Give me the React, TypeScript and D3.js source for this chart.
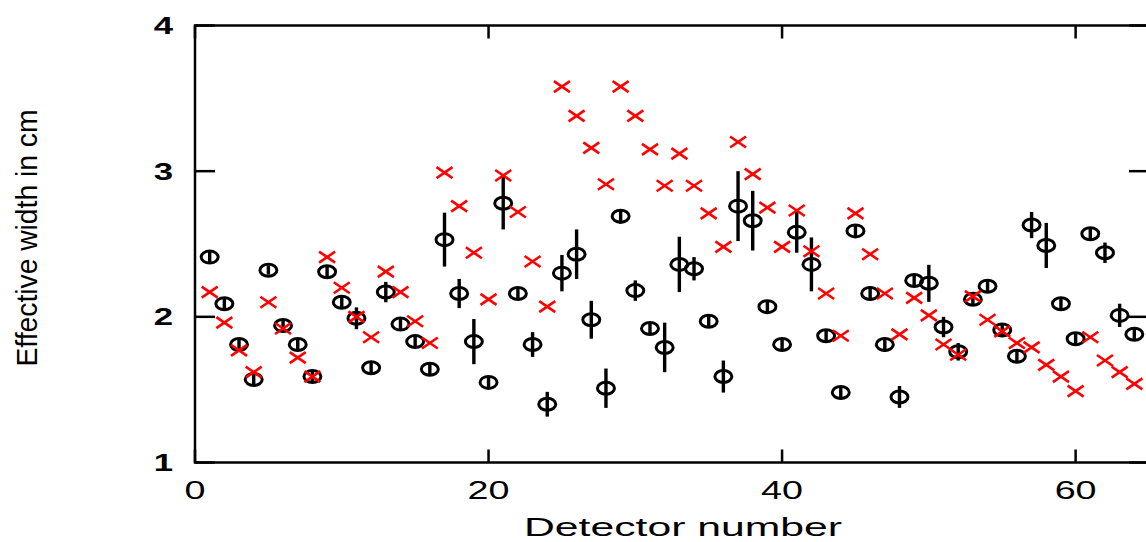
import React, { useEffect } from "react";
import * as d3 from "d3";

const detectors: number[] = Array.from({ length: 64 }, (_, i) => i + 1);

const measured: number[] = [
  2.41, 2.09, 1.81, 1.57, 2.32, 1.94, 1.81, 1.59, 2.31, 2.10, 1.99, 1.65, 2.17, 1.95, 1.83, 1.64,
  2.53, 2.16, 1.83, 1.55, 2.78, 2.16, 1.81, 1.40, 2.30, 2.43, 1.98, 1.51, 2.69, 2.18, 1.92, 1.79,
  2.36, 2.33, 1.97, 1.59, 2.76, 2.66, 2.07, 1.81, 2.58, 2.36, 1.87, 1.48, 2.59, 2.16, 1.81, 1.45,
  2.25, 2.23, 1.93, 1.76, 2.12, 2.21, 1.91, 1.73, 2.63, 2.49, 2.09, 1.85, 2.57, 2.44, 2.01, 1.88,
];

const measuredErr: number[] = [
  0.04, 0.04, 0.04, 0.04, 0.03, 0.04, 0.04, 0.04, 0.04, 0.04, 0.075, 0.04, 0.07, 0.04, 0.04, 0.04,
  0.185, 0.1, 0.155, 0.04, 0.18, 0.04, 0.085, 0.085, 0.125, 0.17, 0.13, 0.135, 0.05, 0.07, 0.04, 0.17,
  0.19, 0.08, 0.04, 0.11, 0.24, 0.205, 0.04, 0.04, 0.14, 0.185, 0.04, 0.04, 0.04, 0.05, 0.05, 0.075,
  0.04, 0.127, 0.07, 0.06, 0.04, 0.04, 0.04, 0.04, 0.09, 0.155, 0.04, 0.04, 0.04, 0.07, 0.08, 0.04,
];

const simulated: number[] = [
  2.17, 1.96, 1.77, 1.62, 2.10, 1.92, 1.72, 1.59, 2.41, 2.20, 2.00, 1.86, 2.31, 2.17, 1.97, 1.82,
  2.99, 2.76, 2.44, 2.12, 2.97, 2.72, 2.38, 2.07, 3.58, 3.38, 3.16, 2.91, 3.58, 3.38, 3.15, 2.90,
  3.12, 2.90, 2.71, 2.48, 3.20, 2.98, 2.75, 2.48, 2.73, 2.45, 2.16, 1.87, 2.71, 2.43, 2.16, 1.88,
  2.13, 2.01, 1.81, 1.74, 2.14, 1.98, 1.90, 1.82, 1.79, 1.67, 1.59, 1.49, 1.86, 1.70, 1.62, 1.54,
];

const xTicks: number[] = [0, 20, 40, 60];
const yTicks: number[] = [1, 2, 3, 4];
const xTitle = "Detector number";
const yTitle = "Effective width in cm";

const W = 1146;
const H = 542;

export default function App() {
  useEffect(() => {
    document.body.style.margin = "0";
  }, []);

  const x = d3.scaleLinear().domain([0, 65]).range([195, 1149]);
  const y = d3.scaleLinear().domain([1, 4]).range([462.5, 25.5]);
  const [x0, x1] = x.range();
  const [y0, y1] = y.range();
  const font = "'Liberation Sans', Arial, sans-serif";

  return (
    <svg
      width={W}
      height={H}
      viewBox={`0 0 ${W} ${H}`}
      style={{ position: "absolute", left: 0, top: 0, background: "#fff" }}
    >
      <rect x={0} y={0} width={W} height={H} fill="#fff" />
      {/* frame */}
      <rect x={x0} y={y1} width={x1 - x0} height={y0 - y1} fill="none" stroke="#000" strokeWidth={2.5} />
      {/* y ticks */}
      {yTicks.map((t) => (
        <g key={"yt" + t}>
          <line x1={x0} x2={x0 + 20} y1={y(t)} y2={y(t)} stroke="#000" strokeWidth={2.5} />
          <line x1={x1} x2={x1 - 20} y1={y(t)} y2={y(t)} stroke="#000" strokeWidth={2.5} />
          <text
            transform={`translate(173,${y(t)}) scale(1.45,1)`}
            textAnchor="end"
            dominantBaseline="central"
            fontFamily={font}
            fontWeight="bold"
            fontSize={24}
            fill="#000"
          >
            {t}
          </text>
        </g>
      ))}
      {/* x ticks */}
      {xTicks.map((t) => (
        <g key={"xt" + t}>
          <line x1={x(t)} x2={x(t)} y1={y0} y2={y0 - 13} stroke="#000" strokeWidth={2.5} />
          <line x1={x(t)} x2={x(t)} y1={y1} y2={y1 + 13} stroke="#000" strokeWidth={2.5} />
          <text
            transform={`translate(${x(t)},499) scale(1.45,1)`}
            textAnchor="middle"
            fontFamily={font}
            fontSize={26}
            fill="#000"
          >
            {t}
          </text>
        </g>
      ))}
      {/* axis titles */}
      <text
        x={683}
        y={536}
        textAnchor="middle"
        fontFamily={font}
        fontSize={25}
        textLength={318}
        lengthAdjust="spacingAndGlyphs"
        fill="#000"
      >
        {xTitle}
      </text>
      <text
        transform="translate(37,238) scale(1.3,1) rotate(-90)"
        textAnchor="middle"
        fontFamily={font}
        fontSize={23}
        textLength={257}
        lengthAdjust="spacingAndGlyphs"
        fill="#000"
      >
        {yTitle}
      </text>
      {/* measured points with error bars */}
      {detectors.map((d, i) => (
        <g key={"m" + d}>
          <line
            x1={x(d)}
            x2={x(d)}
            y1={y(measured[i] - measuredErr[i])}
            y2={y(measured[i] + measuredErr[i])}
            stroke="#000"
            strokeWidth={3.4}
          />
          <ellipse cx={x(d)} cy={y(measured[i])} rx={8.5} ry={6} fill="none" stroke="#000" strokeWidth={3} />
        </g>
      ))}
      {/* simulated crosses */}
      {detectors.map((d, i) => (
        <g key={"s" + d} stroke="#ff0000" strokeWidth={2.6}>
          <line x1={x(d) - 8} x2={x(d) + 8} y1={y(simulated[i]) - 5.5} y2={y(simulated[i]) + 5.5} />
          <line x1={x(d) - 8} x2={x(d) + 8} y1={y(simulated[i]) + 5.5} y2={y(simulated[i]) - 5.5} />
        </g>
      ))}
    </svg>
  );
}
